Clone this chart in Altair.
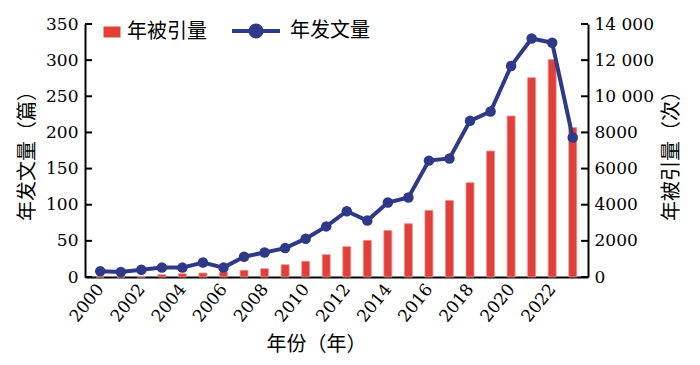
import altair as alt
import pandas as pd

years = list(range(2000, 2024))
pubs = [8, 7, 10, 13, 13, 20, 13, 28, 34, 40, 53, 70, 91, 78, 103, 110, 161, 164, 216, 229, 292, 330, 324, 193]
cites = [0, 0, 0, 130, 180, 220, 280, 370, 460, 680, 870, 1240, 1680, 2030, 2580, 2950, 3690, 4240, 5220, 6970, 8910, 11030, 12030, 8270]
left_ticks = [0, 50, 100, 150, 200, 250, 300, 350]
right_ticks = [0, 2000, 4000, 6000, 8000, 10000, 12000, 14000]
x_labels = list(range(2000, 2023, 2))
series_cite = "年被引量"
series_pub = "年发文量"

df = pd.DataFrame({"year": years, "pubs": pubs, "cites": cites,
                   "sc": series_cite, "sp": series_pub})
lt = pd.DataFrame({"pubs": left_ticks})
rt = pd.DataFrame({"cites": right_ticks})

NAVY = "#2e3a87"
RED = "#e0403a"
CJK = "Noto Sans CJK SC"
NUM = "DejaVu Serif"
NUMSIZE = 17

x = alt.X(
    "year:Q",
    scale=alt.Scale(domain=[1999.5, 2023.5], nice=False, zero=False),
    axis=alt.Axis(
        values=x_labels, format="d", labelAngle=-51, labelAlign="right",
        labelBaseline="middle", ticks=False, labelPadding=9,
        title="年份（年）", titleX=231, titlePadding=10, grid=False,
        domainColor="black", domainWidth=2,
        labelFont=NUM, labelFontSize=NUMSIZE, labelColor="black",
        titleFont=CJK, titleFontSize=20, titleFontWeight="normal", titleColor="black",
    ),
)

yl = alt.Y(
    "pubs:Q",
    scale=alt.Scale(domain=[0, 350], nice=False),
    axis=alt.Axis(
        orient="left", values=left_ticks, ticks=False, labelPadding=7,
        title="年发文量（篇）", titlePadding=8, grid=False,
        domainColor="black", domainWidth=2,
        labelFont=NUM, labelFontSize=NUMSIZE, labelColor="black",
        titleFont=CJK, titleFontSize=20, titleFontWeight="normal", titleColor="black",
    ),
)

yr = alt.Y(
    "cites:Q",
    scale=alt.Scale(domain=[0, 14000], nice=False),
    axis=alt.Axis(
        orient="right", values=right_ticks, ticks=False, labelPadding=6,
        labelExpr="datum.value >= 10000 ? replace(format(datum.value, ','), ',', ' ') : format(datum.value, 'd')",
        title="年被引量（次）", titleAngle=270, titleBaseline="top", titlePadding=8, grid=False,
        domainColor="black", domainWidth=2,
        labelFont=NUM, labelFontSize=NUMSIZE, labelColor="black",
        titleFont=CJK, titleFontSize=20, titleFontWeight="normal", titleColor="black",
    ),
)

bars = alt.Chart(df).mark_bar(size=8, stroke="#f0948c", strokeWidth=0.8).encode(
    x=x,
    y=yr,
    fill=alt.Fill(
        "sc:N",
        scale=alt.Scale(domain=[series_cite], range=[RED]),
        legend=alt.Legend(
            title=None, orient="none", legendX=17, legendY=-2, padding=0,
            symbolType="M-1,-0.65L1,-0.65L1,0.65L-1,0.65Z", symbolSize=289,
            symbolStrokeWidth=0,
            labelFont=CJK, labelFontSize=20, labelColor="black", labelOffset=5,
        ),
    ),
)
rticks = alt.Chart(rt).mark_rule(color="black", strokeWidth=2).encode(
    y=yr, x=alt.value(496), x2=alt.value(503)
)

line = alt.Chart(df).mark_line(strokeWidth=4).encode(
    x=x,
    y=yl,
    stroke=alt.Stroke(
        "sp:N",
        scale=alt.Scale(domain=[series_pub], range=[NAVY]),
        legend=alt.Legend(
            title=None, orient="none", legendX=145, legendY=-19, padding=0,
            symbolType="M-1,0L1,0M0.23,0A0.23,0.23,0,1,1,-0.23,0A0.23,0.23,0,1,1,0.23,0Z",
            symbolSize=2304, symbolStrokeWidth=4, symbolFillColor=NAVY,
            labelFont=CJK, labelFontSize=20, labelColor="black", labelOffset=8,
        ),
    ),
)
points = alt.Chart(df).mark_circle(size=110, color=NAVY, opacity=1).encode(x=x, y=yl)
lticks = alt.Chart(lt).mark_rule(color="black", strokeWidth=2).encode(
    y=yl, x=alt.value(0), x2=alt.value(7)
)

right_group = alt.layer(bars, rticks)
left_group = alt.layer(line, points, lticks)

chart = (
    alt.layer(right_group, left_group)
    .resolve_scale(y="independent")
    .properties(
        width=503, height=253,
        autosize=alt.AutoSizeParams(type="none"),
        padding={"left": 77, "top": 16, "right": 104, "bottom": 80},
        background="white",
    )
    .configure_view(stroke=None)
)

chart.save("out.html", embed_options={"renderer": "svg", "actions": False})
